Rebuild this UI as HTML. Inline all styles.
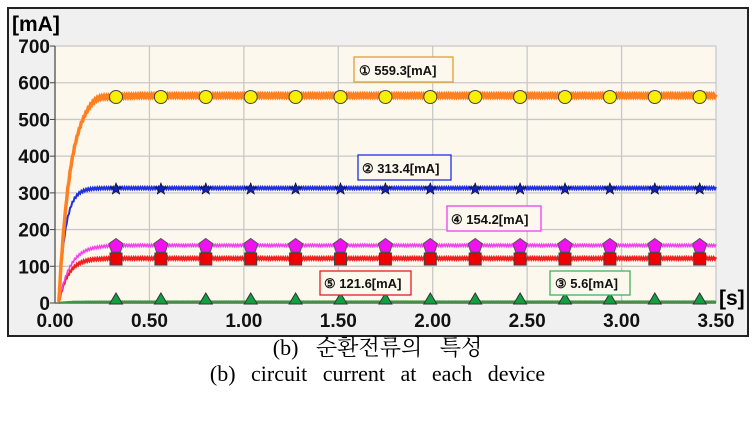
<!DOCTYPE html><html><head><meta charset="utf-8"><style>
body{margin:0;background:#fff;width:755px;height:429px;overflow:hidden}
.cap{position:absolute;left:0;width:755px;text-align:center;font-family:"Liberation Serif","Noto Serif CJK SC",serif;font-size:22px;color:#000}
</style></head><body>
<svg width="755" height="429" style="position:absolute;left:0;top:0" font-family="Liberation Sans, sans-serif">
<rect x="8" y="8" width="740" height="328" fill="#f0f0f0" stroke="#222" stroke-width="2"/>
<rect x="55" y="46" width="661" height="257" fill="#fdf8ee"/>
<g stroke="#c8c8c8" stroke-width="1.3" id="grid"></g>
<line x1="55" y1="46" x2="55" y2="303" stroke="#666" stroke-width="1.5"/>
<line x1="55" y1="303" x2="716" y2="303" stroke="#666" stroke-width="1.5"/>
<g font-size="19" font-weight="bold" fill="#111" id="labels"></g>
<text x="12" y="31" font-size="21" font-weight="bold">[mA]</text>
<text x="719" y="305" font-size="21" font-weight="bold">[s]</text>
<g id="curves" fill="none"></g>
<g id="marks"></g>
<g font-size="13" font-weight="bold" fill="#111">
<rect x="354" y="57" width="99" height="25" fill="#fdf8ee" stroke="#e0a030" stroke-width="1.3"/><text x="359" y="75">① 559.3[mA]</text>
<rect x="358" y="155" width="93" height="25" fill="#fdf8ee" stroke="#2030e0" stroke-width="1.3"/><text x="362" y="173">② 313.4[mA]</text>
<rect x="447" y="206" width="94" height="25" fill="#fdf8ee" stroke="#f040f0" stroke-width="1.3"/><text x="451" y="224">④ 154.2[mA]</text>
<rect x="320" y="271" width="91" height="24" fill="#fdf8ee" stroke="#e02020" stroke-width="1.3"/><text x="324" y="288">⑤ 121.6[mA]</text>
<rect x="550" y="271" width="80" height="24" fill="#fdf8ee" stroke="#40b060" stroke-width="1.3"/><text x="555" y="288">③ 5.6[mA]</text>
</g>
</svg>
<div class="cap" style="top:331px;word-spacing:12px">(b) 순환전류의 특성</div>
<div class="cap" style="top:361px;word-spacing:10px">(b) circuit current at each device</div>
<script>
const ns="http://www.w3.org/2000/svg";
function el(p,t,a){const e=document.createElementNS(ns,t);for(const k in a)e.setAttribute(k,a[k]);p.appendChild(e);return e;}
const X=s=>55+s*188.86, Y=v=>303-v*0.3671;
const g=document.getElementById('grid'),L=document.getElementById('labels');
for(let i=1;i<=7;i++){el(g,'line',{x1:X(i*0.5),y1:46,x2:X(i*0.5),y2:303});}
for(let i=1;i<=7;i++){el(g,'line',{x1:55,y1:Y(i*100),x2:716,y2:Y(i*100)});}
for(let i=0;i<=7;i++){const t=el(L,'text',{x:50,y:Y(i*100)+7,'text-anchor':'end'});t.textContent=i*100;
 el(L,'line',{x1:50,y1:Y(i*100),x2:55,y2:Y(i*100),stroke:'#444'});}
for(let i=0;i<=7;i++){const t=el(L,'text',{x:X(i*0.5),y:327,'text-anchor':'middle'});t.textContent=(i*0.5).toFixed(2);}
const C=document.getElementById('curves');
function curve(v,tau,col,w,over){let d='';for(let s=0.02;s<=3.5;s+=0.006){let val=v*(1-Math.exp(-(s-0.02)/tau));if(over)val+=over*Math.exp(-Math.pow((s-0.22)/0.06,2));
 val+= (Math.round(s/0.006)%2?1:-1)*(v>50?3:0.5);d+=(d?'L':'M')+X(s).toFixed(1)+','+Y(Math.max(0,val)).toFixed(1);}
 el(C,'path',{d:d,stroke:col,'stroke-width':w});}
curve(4,0.05,'#3a9a40',2);
curve(121.6,0.05,'#f02020',2.2);
curve(157,0.06,'#f040f0',1.6);
curve(313,0.035,'#2030e0',2);
curve(565,0.06,'#ff8020',3.5,10);
const M=document.getElementById('marks');
for(let i=0;i<14;i++){const x=116+i*44.9;
 el(M,'circle',{cx:x,cy:97,r:6.5,fill:'#f8f000',stroke:'#444','stroke-width':1});
 let p='';for(let k=0;k<10;k++){const r=k%2?2.6:6.5,a=-Math.PI/2+k*Math.PI/5;p+=(x+r*Math.cos(a)).toFixed(1)+','+(189+r*Math.sin(a)).toFixed(1)+' ';}
 el(M,'polygon',{points:p,fill:'#1020b0',stroke:'#000','stroke-width':0.5});
 p='';for(let k=0;k<5;k++){const a=-Math.PI/2+k*2*Math.PI/5;p+=(x+7.5*Math.cos(a)).toFixed(1)+','+(246+7.5*Math.sin(a)).toFixed(1)+' ';}
 el(M,'polygon',{points:p,fill:'#f010f0',stroke:'#555','stroke-width':1});
 el(M,'rect',{x:x-6,y:253,width:12,height:12,fill:'#f00000',stroke:'#444','stroke-width':1});
 el(M,'polygon',{points:`${x},${293} ${x-6.5},${304} ${x+6.5},${304}`,fill:'#10a040',stroke:'#333','stroke-width':1});
}
</script>
</body></html>
